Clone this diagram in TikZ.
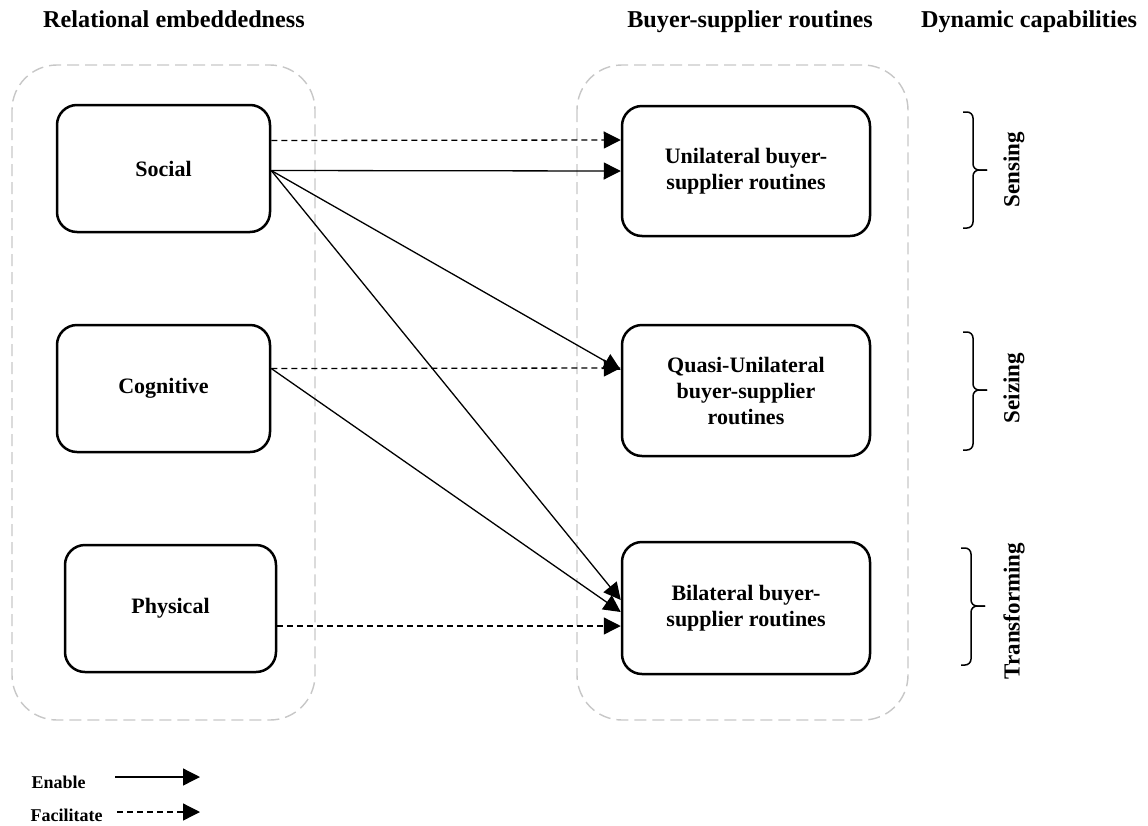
\documentclass[tikz,border=0pt]{standalone}
\usepackage{fontspec}
\setmainfont{Liberation Serif}
\usetikzlibrary{arrows.meta}
\begin{document}
\begin{tikzpicture}[x=1pt,y=-1pt,
  box/.style={draw,line width=2.5pt,rounded corners=20pt,align=center,
    font=\fontsize{22}{26}\selectfont\bfseries},
  group/.style={draw=black!22,line width=1.4pt,dash pattern=on 12pt off 6pt,rounded corners=45pt},
  head/.style={font=\fontsize{24.2}{28}\selectfont\bfseries,anchor=base},
  captext/.style={font=\fontsize{23}{26}\selectfont\bfseries,rotate=90},
  leg/.style={font=\fontsize{18}{21}\selectfont\bfseries},
  enable/.style={line width=1.3pt,-{Triangle[length=17pt,width=17pt]}},
  facil/.style={line width=1.3pt,dash pattern=on 6pt off 4pt,-{Triangle[length=17pt,width=17pt]}},
  bracestyle/.style={line width=1.5pt,rounded corners=6pt}]
\useasboundingbox (0,0) rectangle (1148,825);
% groups
\draw[group] (12,65) rectangle (315,720);
\draw[group] (577,65) rectangle (908,720);
% headers
\node[head] (h1) at (174,27) {Relational embeddedness};
\node[head] (h2) at (750,27) {Buyer-supplier routines};
\node[head] (h3) at (1029,27) {Dynamic capabilities};
% left boxes
\node[box,minimum width=213pt,minimum height=127pt] (soc) at (163.5,168.5) {Social};
\node[box,minimum width=213pt,minimum height=127pt] (cog) at (163.5,388.5) {Cognitive};
\node[box,minimum width=211pt,minimum height=127pt] (phy) at (170.5,608.5) {Physical};
% right boxes
\node[box,minimum width=248pt,minimum height=130pt] (uni) at (746,171) {Unilateral buyer-\\supplier routines};
\node[box,minimum width=248pt,minimum height=131pt] (qua) at (746,390.5) {Quasi-Unilateral\\buyer-supplier\\routines};
\node[box,minimum width=248pt,minimum height=132pt] (bil) at (746,608) {Bilateral buyer-\\supplier routines};
% connectors
\draw[facil] ([yshift=28pt]soc.east) -- ([yshift=31pt]uni.west);
\draw[enable] ([yshift=-2pt]soc.east) -- (uni.west);
\draw[enable] ([yshift=-2pt]soc.east) -- ([yshift=20.5pt]qua.west);
\draw[enable] ([yshift=-2pt]soc.east) -- ([yshift=8pt]bil.west);
\draw[facil] ([yshift=20pt]cog.east) -- ([yshift=22.5pt]qua.west);
\draw[enable] ([yshift=20pt]cog.east) -- ([yshift=-4pt]bil.west);
\draw[facil] ([yshift=-17.5pt]phy.east) -- ([yshift=-18pt]bil.west);
% braces
\coordinate (b1t) at (963,112); \coordinate (b1m) at (973,170); \coordinate (b1p) at (987,170); \coordinate (b1b) at (963,228);
\coordinate (b2t) at (963,332); \coordinate (b2m) at (973,390); \coordinate (b2p) at (987,390); \coordinate (b2b) at (963,450);
\coordinate (b3t) at (961,548); \coordinate (b3m) at (971,606); \coordinate (b3p) at (985,606); \coordinate (b3b) at (961,665);
\draw[bracestyle] (b1t) -| (b1m) -- (b1p);
\draw[bracestyle] (b1b) -| (b1m) -- (b1p);
\draw[bracestyle] (b2t) -| (b2m) -- (b2p);
\draw[bracestyle] (b2b) -| (b2m) -- (b2p);
\draw[bracestyle] (b3t) -| (b3m) -- (b3p);
\draw[bracestyle] (b3b) -| (b3m) -- (b3p);
\node[captext] (c1) at (1014,170) {Sensing};
\node[captext] (c2) at (1014,388) {Seizing};
\node[captext] (c3) at (1014,611) {Transforming};
% legend
\node[leg,anchor=west] (l1) at (28,782) {Enable};
\node[leg,anchor=west] (l2) at (27,815) {Facilitate};
\coordinate (e1) at (115,777); \coordinate (e2) at (200,777);
\coordinate (f1) at (117,812); \coordinate (f2) at (200,812);
\draw[enable] (e1) -- (e2);
\draw[facil] (f1) -- (f2);
\end{tikzpicture}
\end{document}
